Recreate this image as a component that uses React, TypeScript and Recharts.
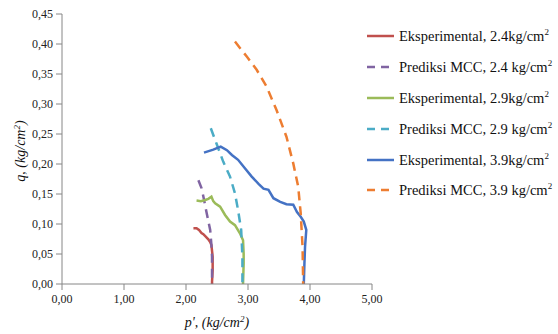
import React from 'react';
import { LineChart, Line, XAxis, YAxis, Label } from 'recharts';

// tick values
const xTicks = [0, 1, 2, 3, 4, 5];
const yTicks = [0, 0.05, 0.1, 0.15, 0.2, 0.25, 0.3, 0.35, 0.4, 0.45];

// Eksperimental 2.4
const pExp24 = [2.12, 2.17, 2.21, 2.25, 2.28, 2.36, 2.39, 2.41, 2.43, 2.43, 2.42, 2.42];
const qExp24 = [0.093, 0.093, 0.09, 0.085, 0.083, 0.0745, 0.07, 0.065, 0.0455, 0.023, 0.004, 0];

// Prediksi MCC 2.4
const pMcc24 = [2.2, 2.25, 2.28, 2.33, 2.37, 2.39, 2.41, 2.42, 2.42];
const qMcc24 = [0.173, 0.16, 0.146, 0.12, 0.1, 0.09, 0.065, 0.045, 0];

// Eksperimental 2.9
const pExp29 = [2.17, 2.24, 2.31, 2.36, 2.41, 2.44, 2.47, 2.55, 2.63, 2.71, 2.79, 2.87, 2.92, 2.93, 2.93, 2.92];
const qExp29 = [0.139, 0.138, 0.14, 0.142, 0.1455, 0.138, 0.1345, 0.129, 0.115, 0.104, 0.098, 0.0845, 0.073, 0.05, 0.0345, 0];

// Prediksi MCC 2.9
const pMcc29 = [2.4, 2.49, 2.6, 2.71, 2.79, 2.84, 2.89, 2.91, 2.91];
const qMcc29 = [0.2595, 0.2345, 0.204, 0.179, 0.151, 0.123, 0.09, 0.0455, 0];

// Eksperimental 3.9
const pExp39 = [2.29, 2.44, 2.56, 2.66, 2.74, 2.84, 2.95, 3.06, 3.17, 3.25, 3.33, 3.41, 3.52, 3.62, 3.73, 3.79, 3.85, 3.9, 3.94, 3.92, 3.91, 3.9];
const qExp39 = [0.219, 0.224, 0.229, 0.223, 0.215, 0.207, 0.193, 0.179, 0.167, 0.159, 0.157, 0.143, 0.137, 0.133, 0.132, 0.12, 0.112, 0.104, 0.09, 0.062, 0.034, 0];

// Prediksi MCC 3.9
const pMcc39 = [2.79, 2.98, 3.14, 3.3, 3.46, 3.62, 3.73, 3.81, 3.85, 3.88, 3.89];
const qMcc39 = [0.404, 0.379, 0.357, 0.329, 0.29, 0.2455, 0.201, 0.162, 0.118, 0.062, 0];

const zip = (p: number[], q: number[]) => p.map((v, i) => ({ p: v, q: q[i] }));

const series = [
  { name: 'Eksperimental, 2.4', gap: '', data: zip(pExp24, qExp24), color: '#c0504d', dashed: false },
  { name: 'Prediksi MCC, 2.4', gap: ' ', data: zip(pMcc24, qMcc24), color: '#8064a2', dashed: true },
  { name: 'Eksperimental, 2.9', gap: '', data: zip(pExp29, qExp29), color: '#9bbb59', dashed: false },
  { name: 'Prediksi MCC, 2.9', gap: ' ', data: zip(pMcc29, qMcc29), color: '#4bacc6', dashed: true },
  { name: 'Eksperimental, 3.9', gap: '', data: zip(pExp39, qExp39), color: '#4472c4', dashed: false },
  { name: 'Prediksi MCC, 3.9', gap: ' ', data: zip(pMcc39, qMcc39), color: '#ed7d31', dashed: true },
];

const fmt = (v: number) => v.toFixed(2).replace('.', ',');
const tickStyle = { fontFamily: 'Liberation Serif', fontSize: 12, fill: '#222' };

const LegendBox = () => (
  <div style={{ position: 'absolute', left: 366, top: 21, fontFamily: 'Liberation Serif', fontSize: 14.5, color: '#111' }}>
    {series.map(s => (
      <div key={s.name} style={{ display: 'flex', alignItems: 'center', height: 30.8 }}>
        <svg width={30} height={6} style={{ marginRight: 3 }}>
          <line x1={1} y1={3} x2={28} y2={3} stroke={s.color} strokeWidth={2.5}
            strokeDasharray={s.dashed ? '8 6' : undefined} />
        </svg>
        <span style={{ whiteSpace: 'nowrap' }}>
          {s.name}{s.gap}kg/cm<sup style={{ fontSize: 9 }}>2</sup>
        </span>
      </div>
    ))}
  </div>
);

const App: React.FC = () => (
  <div style={{ position: 'absolute', left: 0, top: 0, width: 558, height: 334, background: '#fff' }}>
    <LineChart width={558} height={334} margin={{ top: 14, right: 186, left: 0, bottom: 0 }}>
      <XAxis type="number" dataKey="p" domain={[0, 5]} ticks={xTicks} tickFormatter={fmt} interval={0}
        stroke="#868686" tick={tickStyle} tickMargin={4} height={50} allowDuplicatedCategory={false}>
        <Label content={() => (
          <text x={217} y={327} textAnchor="middle" fontFamily="Liberation Serif" fontStyle="italic" fontSize={14} fill="#111">
            p', (kg/cm<tspan dy={-5} fontSize={9}>2</tspan><tspan dy={5}>)</tspan>
          </text>
        )} />
      </XAxis>
      <YAxis type="number" dataKey="q" domain={[0, 0.45]} ticks={yTicks} tickFormatter={fmt} interval={0}
        stroke="#868686" tick={tickStyle} tickMargin={3} width={62}>
        <Label content={() => (
          <text x={25} y={151} transform="rotate(-90 25 151)" textAnchor="middle" fontFamily="Liberation Serif"
            fontStyle="italic" fontSize={14} fill="#111">
            q, (kg/cm<tspan dy={-5} fontSize={9}>2</tspan><tspan dy={5}>)</tspan>
          </text>
        )} />
      </YAxis>
      {series.map(s => (
        <Line key={s.name} data={s.data} dataKey="q" name={s.name} type="linear" stroke={s.color}
          strokeWidth={2.5} strokeDasharray={s.dashed ? '9 6' : undefined} dot={false}
          isAnimationActive={false} />
      ))}
    </LineChart>
    <LegendBox />
  </div>
);

export default App;
